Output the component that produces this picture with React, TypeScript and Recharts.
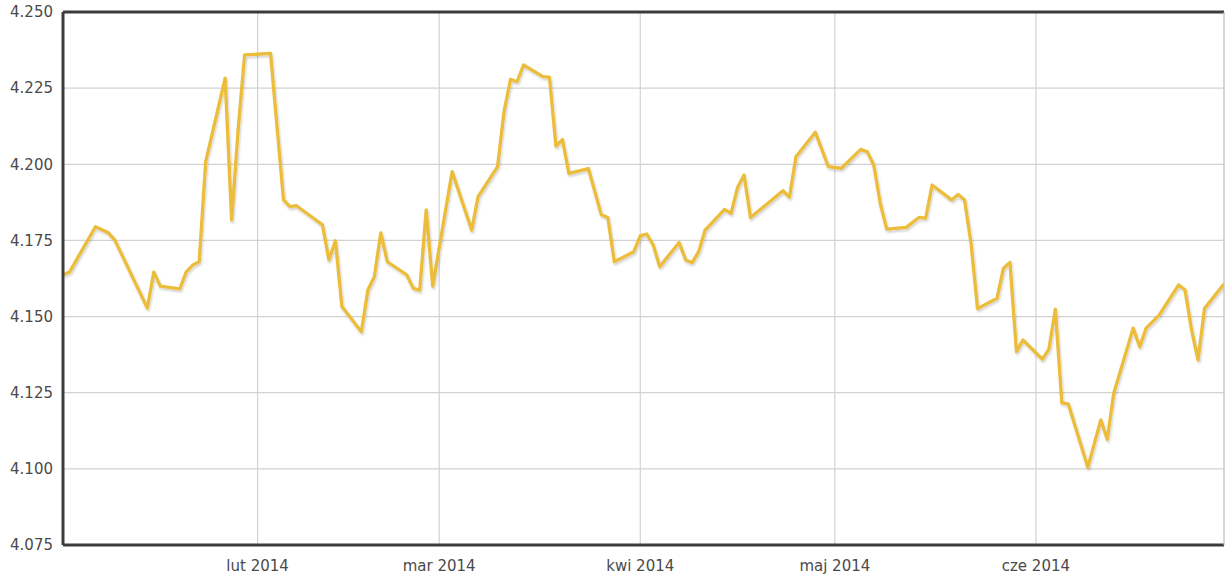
import { LineChart, Line, XAxis, YAxis, CartesianGrid, ReferenceLine } from 'recharts'

// kurs EUR/PLN, styczeń - czerwiec 2014
const DATES = [
  '2014-01-02', '2014-01-03', '2014-01-07', '2014-01-09', '2014-01-10', '2014-01-15',
  '2014-01-16', '2014-01-17', '2014-01-20', '2014-01-21', '2014-01-22', '2014-01-23',
  '2014-01-24', '2014-01-27', '2014-01-28', '2014-01-29', '2014-01-30', '2014-02-03',
  '2014-02-05', '2014-02-06', '2014-02-07', '2014-02-10', '2014-02-11', '2014-02-12',
  '2014-02-13', '2014-02-14', '2014-02-17', '2014-02-18', '2014-02-19', '2014-02-20',
  '2014-02-21', '2014-02-24', '2014-02-25', '2014-02-26', '2014-02-27', '2014-02-28',
  '2014-03-03', '2014-03-06', '2014-03-07', '2014-03-10', '2014-03-11', '2014-03-12',
  '2014-03-13', '2014-03-14', '2014-03-17', '2014-03-18', '2014-03-19', '2014-03-20',
  '2014-03-21', '2014-03-24', '2014-03-26', '2014-03-27', '2014-03-28', '2014-03-31',
  '2014-04-01', '2014-04-02', '2014-04-03', '2014-04-04', '2014-04-07', '2014-04-08',
  '2014-04-09', '2014-04-10', '2014-04-11', '2014-04-14', '2014-04-15', '2014-04-16',
  '2014-04-17', '2014-04-18', '2014-04-23', '2014-04-24', '2014-04-25', '2014-04-28',
  '2014-04-30', '2014-05-02', '2014-05-05', '2014-05-06', '2014-05-07', '2014-05-08',
  '2014-05-09', '2014-05-12', '2014-05-14', '2014-05-15', '2014-05-16', '2014-05-19',
  '2014-05-20', '2014-05-21', '2014-05-22', '2014-05-23', '2014-05-26', '2014-05-27',
  '2014-05-28', '2014-05-29', '2014-05-30', '2014-06-02', '2014-06-03', '2014-06-04',
  '2014-06-05', '2014-06-06', '2014-06-09', '2014-06-11', '2014-06-12', '2014-06-13',
  '2014-06-16', '2014-06-17', '2014-06-18', '2014-06-20', '2014-06-23', '2014-06-24',
  '2014-06-25', '2014-06-26', '2014-06-27', '2014-06-30',
]

const RATES = [
  4.1637, 4.1646, 4.1795, 4.1775, 4.1751, 4.1528,
  4.1646, 4.16, 4.1591, 4.1647, 4.1669, 4.168,
  4.2009, 4.2283, 4.1817, 4.2113, 4.2359, 4.2364,
  4.1883, 4.1861, 4.1864, 4.1817, 4.1801, 4.1686,
  4.1749, 4.1533, 4.145, 4.1587, 4.1631, 4.1775,
  4.168, 4.1637, 4.1593, 4.1587, 4.185, 4.16,
  4.1976, 4.1784, 4.1894, 4.1992, 4.2173, 4.2279,
  4.2271, 4.2326, 4.2288, 4.2286, 4.206, 4.2081,
  4.197, 4.1986, 4.1834, 4.1825, 4.168, 4.1713,
  4.1765, 4.1771, 4.1735, 4.1664, 4.1743, 4.1686,
  4.1677, 4.1713, 4.1784, 4.1852, 4.1839, 4.1924,
  4.1965, 4.1825, 4.1913, 4.1892, 4.2025, 4.2105,
  4.1992, 4.1987, 4.2049, 4.2041, 4.1998, 4.1872,
  4.1787, 4.1793, 4.1826, 4.1823, 4.1932, 4.1883,
  4.1901, 4.1883, 4.1741, 4.1526, 4.156, 4.1659,
  4.1678, 4.1385, 4.1423, 4.136, 4.1393, 4.1524,
  4.1217, 4.1213, 4.1005, 4.1161, 4.1097, 4.1248,
  4.1462, 4.1401, 4.1462, 4.1505, 4.1604, 4.1587,
  4.1456, 4.1358, 4.1527, 4.1607,
]

const MONTH_TICKS = ['2014-02-01', '2014-03-01', '2014-04-01', '2014-05-01', '2014-06-01']
const MONTH_NAMES = ['sty', 'lut', 'mar', 'kwi', 'maj', 'cze', 'lip', 'sie', 'wrz', 'paź', 'lis', 'gru']
const Y_TICKS = [4.075, 4.1, 4.125, 4.15, 4.175, 4.2, 4.225, 4.25]
const Y_MIN = 4.075
const Y_MAX = 4.25
const X_START = '2014-01-02'
const X_END = '2014-06-30'

const ts = (s: string) => {
  const [y, m, d] = s.split('-').map(Number)
  return Date.UTC(y, m - 1, d)
}

const data = DATES.map((d, i) => ({ t: ts(d), rate: RATES[i] }))

const fmtMonth = (v: number) => {
  const d = new Date(v)
  return `${MONTH_NAMES[d.getUTCMonth()]} ${d.getUTCFullYear()}`
}

const tickStyle = { fontSize: 15, fill: '#4a4a4a', fontFamily: 'DejaVu Sans, Verdana, sans-serif' }
const FRAME = '#3c3c3c'

export default function App() {
  return (
    <div style={{ position: 'absolute', left: 0, top: 0, background: '#fff' }}>
      <LineChart width={1225} height={579} data={data} margin={{ top: 12, right: 0, bottom: 0, left: 0 }}>
        <defs>
          <filter id="lineShadow" x="-5%" y="-5%" width="110%" height="120%">
            <feDropShadow dx="1" dy="2" stdDeviation="1.2" floodColor="#000" floodOpacity="0.18" />
          </filter>
        </defs>
        <CartesianGrid stroke="#d2d2d2" strokeWidth={1.2} />
        <XAxis
          dataKey="t"
          type="number"
          scale="time"
          domain={[ts(X_START), ts(X_END)]}
          ticks={MONTH_TICKS.map(ts)}
          tickFormatter={fmtMonth}
          tick={tickStyle}
          tickLine={false}
          tickMargin={9}
          height={34}
          axisLine={{ stroke: FRAME, strokeWidth: 3 }}
          allowDataOverflow
        />
        <YAxis
          domain={[Y_MIN, Y_MAX]}
          ticks={Y_TICKS}
          tickFormatter={(v: number) => v.toFixed(3)}
          tick={tickStyle}
          tickLine={false}
          tickMargin={4}
          width={63}
          axisLine={{ stroke: FRAME, strokeWidth: 3 }}
          allowDataOverflow
        />
        <YAxis
          yAxisId="right"
          orientation="right"
          domain={[Y_MIN, Y_MAX]}
          width={1}
          tick={false}
          tickLine={false}
          axisLine={{ stroke: '#c8c8c8', strokeWidth: 1 }}
        />
        <ReferenceLine y={Y_MAX} stroke={FRAME} strokeWidth={3} />
        <Line
          type="linear"
          dataKey="rate"
          stroke="#ebbd3b"
          strokeWidth={3.3}
          strokeLinejoin="round"
          dot={false}
          activeDot={false}
          filter="url(#lineShadow)"
          isAnimationActive={false}
        />
      </LineChart>
    </div>
  )
}
